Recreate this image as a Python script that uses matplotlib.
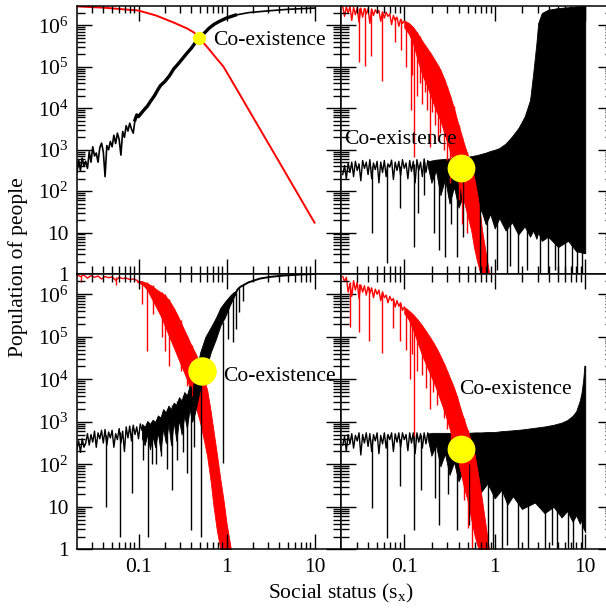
import numpy as np
import matplotlib
matplotlib.use("Agg")
import matplotlib.pyplot as plt
from matplotlib.ticker import FixedLocator, FixedFormatter, NullFormatter, NullLocator
from matplotlib.collections import LineCollection

plt.rcParams['font.family'] = ['Liberation Serif', 'DejaVu Serif']
plt.rcParams['mathtext.fontset'] = 'custom'
plt.rcParams['mathtext.rm'] = 'Liberation Serif'
plt.rcParams['mathtext.it'] = 'Liberation Serif:italic'
plt.rcParams['mathtext.default'] = 'regular'

FS = 15.5
RED = '#ff0000'
YEL = '#ffff00'

# every number below is log10 of the value
# (x = social status, y = population)

# ---- panel A (top left)
A_BLK_LX = [-1.70, -1.68, -1.66, -1.64, -1.62, -1.60, -1.58, -1.56, -1.54, -1.52,
            -1.50, -1.48, -1.46, -1.44, -1.42, -1.40, -1.38, -1.36, -1.34, -1.32,
            -1.30, -1.28, -1.26, -1.24, -1.22, -1.20, -1.18, -1.16, -1.14, -1.12,
            -1.10, -1.08, -1.06, -1.04, -1.02, -1.00, -0.97, -0.93, -0.90, -0.86,
            -0.82, -0.78, -0.75, -0.70, -0.65, -0.60, -0.55, -0.50, -0.45, -0.40,
            -0.35, -0.31, -0.25, -0.20, -0.14, -0.08, 0.00, 0.10, 0.25, 0.46,
            0.70, 1.00]
A_BLK_LY = [2.45, 2.75, 2.50, 2.80, 2.60, 2.72, 2.55, 2.95, 2.70, 3.07,
            2.85, 2.92, 2.70, 3.05, 3.16, 2.95, 2.35, 3.10, 3.00, 3.20,
            3.07, 3.35, 3.15, 3.40, 3.25, 2.87, 3.44, 3.30, 3.58, 3.45,
            3.64, 3.50, 3.40, 3.72, 3.84, 3.80, 3.88, 3.98, 4.05, 4.18,
            4.30, 4.45, 4.55, 4.65, 4.78, 4.95, 5.07, 5.20, 5.33, 5.45,
            5.60, 5.69, 5.82, 5.93, 6.03, 6.10, 6.18, 6.25, 6.31, 6.35,
            6.39, 6.42]
A_RED_LX = [-1.70, -1.40, -1.00, -0.80, -0.60, -0.45, -0.37, -0.31, -0.20, -0.10,
            -0.036, 0.10, 0.30, 0.60, 1.00]
A_RED_LY = [6.46, 6.43, 6.36, 6.24, 6.07, 5.93, 5.83, 5.70, 5.43, 5.17,
            5.01, 4.52, 3.79, 2.70, 1.24]
A_DOT = (-0.31, 5.70)
A_TXT = (-0.153, 5.63)

# ---- shared x samples of the noisy black lines in panels B and D
NOISE_LX = [-1.68, -1.66, -1.64, -1.62, -1.60, -1.58, -1.56, -1.54, -1.52, -1.50,
            -1.48, -1.46, -1.44, -1.42, -1.40, -1.38, -1.36, -1.34, -1.32, -1.30,
            -1.28, -1.26, -1.24, -1.22, -1.20, -1.18, -1.16, -1.14, -1.12, -1.10,
            -1.08, -1.06, -1.04, -1.02, -1.00, -0.98, -0.96, -0.94, -0.92, -0.90,
            -0.88, -0.86, -0.84, -0.82, -0.80, -0.78, -0.76, -0.74, -0.72]
RED_ZZ_LX = NOISE_LX[:35]

# ---- panel B (top right)
B_BLK_LY = [2.40, 2.62, 2.30, 2.68, 2.45, 2.70, 2.35, 2.72, 2.50, 2.66,
            2.25, 2.74, 2.55, 2.70, 2.40, 2.76, 2.30, 2.68, 2.52, 2.72,
            2.20, 2.70, 2.45, 2.74, 2.35, 2.66, 2.58, 2.75, 2.28, 2.70,
            2.50, 2.72, 2.38, 2.76, 2.55, 2.68, 2.30, 2.74, 2.48, 2.72,
            2.20, 2.76, 2.50, 2.70, 2.35, 2.78, 2.45, 2.74, 2.60]
B_BAND_LX = [-0.74, -0.70, -0.65, -0.60, -0.55, -0.50, -0.45, -0.40, -0.35, -0.30,
             -0.25, -0.20, -0.15, -0.10, -0.05, 0.00, 0.05, 0.12, 0.19, 0.26,
             0.33, 0.39, 0.425, 0.46, 0.48, 0.52, 0.59, 0.70, 0.81, 0.90,
             1.00]
B_BAND_HI = [2.72, 2.74, 2.76, 2.77, 2.78, 2.79, 2.80, 2.81, 2.82, 2.83,
             2.85, 2.87, 2.90, 2.93, 2.97, 3.00, 3.04, 3.15, 3.32, 3.52,
             3.80, 4.20, 4.85, 5.57, 6.06, 6.30, 6.38, 6.42, 6.44, 6.46,
             6.47]
B_BAND_LO = [2.60, 2.20, 2.50, 1.90, 2.30, 1.70, 2.10, 1.60, 1.90, 1.45,
             1.70, 1.30, 1.55, 1.20, 1.45, 1.10, 1.35, 1.05, 1.25, 0.95,
             1.15, 0.90, 1.05, 0.85, 1.00, 0.80, 0.90, 0.65, 0.80, 0.55,
             0.50]
B_BLK_SPIKES = [(-1.354, 2.60, 0.98), (-1.19, 2.62, 0.26), (-1.05, 2.60, 1.60),
                (-0.893, 2.65, 0.66), (-0.85, 2.60, 1.47), (-0.78, 2.70, 1.90),
                (-0.67, 2.70, 0.98), (-0.617, 2.70, 0.58), (-0.545, 2.70, 0.42),
                (-0.48, 2.70, 1.20), (-0.414, 2.75, 0.42), (-0.35, 2.60, 0.90),
                (-0.164, 1.80, 0.0), (-0.09, 1.80, 0.0), (0.02, 1.70, 0.1),
                (0.13, 1.70, 0.0), (0.168, 1.60, 0.2), (0.26, 1.60, 0.0),
                (0.351, 1.50, 0.1), (0.499, 1.40, 0.0), (0.591, 1.30, 0.0),
                (0.665, 1.20, 0.1), (0.70, 1.20, 0.0), (0.776, 1.20, 0.0),
                (0.849, 1.10, 0.0), (0.904, 1.10, 0.0), (0.959, 1.00, 0.0)]
B_RED_ZZ = [6.46, 6.22, 6.45, 6.30, 6.46, 6.12, 6.44, 6.26, 6.43, 6.08,
            6.42, 6.20, 6.41, 6.28, 6.40, 6.05, 6.40, 6.24, 6.38, 6.30,
            6.36, 6.10, 6.33, 6.18, 6.32, 6.22, 6.28, 6.02, 6.24, 6.12,
            6.20, 5.98, 6.15, 6.05, 6.10]
B_RED_LX = [-1.00, -0.95, -0.90, -0.85, -0.80, -0.75, -0.70, -0.65, -0.60, -0.55,
            -0.50, -0.45, -0.42, -0.38, -0.34, -0.30, -0.26, -0.23, -0.20, -0.17,
            -0.14, -0.11, -0.08, -0.06]
B_RED_HI = [6.12, 6.06, 5.95, 5.80, 5.62, 5.46, 5.30, 5.12, 4.93, 4.66,
            4.35, 4.00, 3.75, 3.45, 3.15, 2.88, 2.60, 2.35, 2.00, 1.60,
            1.05, 0.65, 0.25, 0.00]
B_RED_LO = [5.95, 5.80, 5.55, 5.15, 4.80, 4.55, 4.25, 3.95, 3.70, 3.35,
            3.00, 2.60, 2.35, 2.05, 1.75, 1.40, 1.05, 0.65, 0.35, 0.10,
            0.00, 0.00, 0.00, 0.00]
B_RED_SPIKES = [(-1.505, 6.43, 5.13), (-1.43, 6.42, 5.01), (-1.37, 6.40, 5.26),
                (-1.245, 6.33, 4.65), (-1.10, 6.20, 5.60), (-1.04, 6.15, 5.40),
                (-0.98, 6.08, 5.00), (-0.93, 6.02, 3.96), (-0.91, 5.98, 4.80),
                (-0.89, 5.93, 2.83), (-0.86, 5.85, 4.30), (-0.83, 5.75, 4.60),
                (-0.80, 5.62, 4.10), (-0.77, 5.52, 4.40), (-0.75, 5.46, 3.96),
                (-0.72, 5.36, 3.07), (-0.69, 5.26, 3.90), (-0.66, 5.15, 3.60),
                (-0.63, 5.05, 3.20), (-0.60, 4.93, 3.40), (-0.56, 4.72, 3.00),
                (-0.53, 4.55, 2.75), (-0.49, 4.30, 2.20), (-0.455, 4.05, 2.43),
                (-0.40, 3.60, 1.79), (-0.36, 3.30, 1.20), (-0.31, 2.95, 1.00)]
B_DOT = (-0.37, 2.56)
B_TXT = (-1.663, 3.24)

# ---- panel C (bottom left)
C_BLK_ZZ_LX = [-1.70, -1.68, -1.66, -1.64, -1.62, -1.60, -1.58, -1.56, -1.54, -1.52,
               -1.50, -1.48, -1.46, -1.44, -1.42, -1.40, -1.38, -1.36, -1.34, -1.32,
               -1.30, -1.28, -1.26, -1.24, -1.22, -1.20, -1.18, -1.16, -1.14, -1.12,
               -1.10, -1.08, -1.06, -1.04, -1.02, -1.00, -0.98, -0.96]
C_BLK_ZZ = [2.35, 2.55, 2.28, 2.60, 2.40, 2.50, 2.72, 2.45, 2.70, 2.52,
            2.78, 2.40, 2.74, 2.60, 2.80, 2.50, 2.82, 2.45, 2.76, 2.62,
            2.80, 2.40, 2.72, 2.58, 2.84, 2.50, 2.78, 2.30, 2.88, 2.62,
            2.90, 2.55, 2.92, 2.70, 2.88, 2.60, 2.95, 2.80]
C_BAND_LX = [-0.96, -0.93, -0.90, -0.87, -0.84, -0.81, -0.78, -0.75, -0.72, -0.69,
             -0.66, -0.63, -0.60, -0.57, -0.54, -0.51, -0.48, -0.45, -0.42, -0.39,
             -0.36, -0.30, -0.24, -0.18, -0.12, -0.07, -0.02, 0.04, 0.08, 0.12]
C_BAND_HI = [2.95, 2.88, 3.02, 2.95, 3.05, 3.00, 3.15, 3.10, 3.30, 3.22,
             3.38, 3.30, 3.45, 3.40, 3.58, 3.50, 3.70, 3.62, 3.85, 3.80,
             3.98, 4.63, 5.00, 5.22, 5.45, 5.68, 5.82, 5.97, 6.05, 6.10]
C_BAND_LO = [2.60, 2.45, 2.70, 2.35, 2.65, 2.40, 2.75, 2.30, 2.85, 2.50,
             2.95, 2.45, 3.00, 2.55, 3.05, 2.70, 3.15, 2.85, 3.30, 3.00,
             3.20, 3.77, 4.20, 4.63, 4.95, 5.26, 5.45, 5.75, 5.92, 6.10]
C_TOP_LX = [0.12, 0.153, 0.25, 0.38, 0.50, 0.644, 0.80, 1.00]
C_TOP_LY = [6.10, 6.17, 6.28, 6.37, 6.41, 6.44, 6.46, 6.48]
C_BLK_SPIKES = [(-1.366, 2.70, 1.00), (-1.207, 2.75, 0.30), (-1.07, 2.85, 1.33),
                (-0.95, 2.90, 2.10), (-0.894, 3.00, 0.30), (-0.85, 3.00, 2.00),
                (-0.803, 3.00, 2.00), (-0.74, 3.10, 2.20), (-0.68, 3.30, 1.90),
                (-0.62, 3.40, 1.40), (-0.56, 3.50, 2.10), (-0.50, 3.60, 2.30),
                (-0.45, 3.60, 1.80), (-0.406, 3.80, 0.46), (-0.37, 3.90, 2.40),
                (-0.293, 4.00, 0.30), (-0.043, 5.35, 2.03), (0.02, 5.80, 4.95),
                (0.077, 5.95, 4.88), (0.108, 6.05, 5.18), (0.145, 6.15, 5.58),
                (0.183, 6.22, 5.85)]
C_RED_ZZ_LX = [-1.70, -1.66, -1.62, -1.58, -1.54, -1.50, -1.46, -1.42, -1.38, -1.34,
               -1.30, -1.26, -1.22, -1.18, -1.14, -1.10, -1.06, -1.02]
C_RED_ZZ = [6.46, 6.42, 6.45, 6.38, 6.44, 6.40, 6.43, 6.36, 6.42, 6.39,
            6.41, 6.33, 6.40, 6.37, 6.38, 6.35, 6.36, 6.33]
C_RED_LX = [-1.02, -0.95, -0.90, -0.85, -0.80, -0.75, -0.70, -0.65, -0.60, -0.55,
            -0.50, -0.45, -0.40, -0.35, -0.30, -0.26, -0.22, -0.18, -0.15, -0.11,
            -0.07, -0.03, 0.00, 0.05]
C_RED_HI = [6.33, 6.30, 6.26, 6.20, 6.12, 6.05, 5.98, 5.85, 5.68, 5.48,
            5.25, 5.03, 4.80, 4.60, 4.35, 4.05, 3.75, 3.25, 2.82, 2.25,
            1.65, 1.10, 0.62, 0.00]
C_RED_LO = [6.30, 6.22, 6.10, 5.90, 5.70, 5.50, 5.25, 5.00, 4.75, 4.50,
            4.25, 4.00, 3.70, 3.35, 2.98, 2.60, 2.19, 1.60, 1.05, 0.45,
            0.00, 0.00, 0.00, 0.00]
C_RED_SPIKES = [(-1.65, 6.44, 6.30), (-1.256, 6.40, 6.21), (-0.955, 6.32, 5.78),
                (-0.898, 6.28, 4.67), (-0.841, 6.22, 5.54), (-0.73, 6.05, 4.99),
                (-0.70, 6.00, 4.67), (-0.652, 5.88, 4.32), (-0.595, 5.66, 4.90),
                (-0.52, 5.40, 4.20), (-0.444, 5.03, 3.84), (-0.39, 4.80, 3.60)]
C_DOT = (-0.28, 4.19)
C_TXT = (-0.043, 4.07)

# ---- panel D (bottom right)
D_BLK_LY = [2.45, 2.65, 2.32, 2.70, 2.48, 2.72, 2.38, 2.68, 2.55, 2.74,
            2.22, 2.70, 2.50, 2.74, 2.42, 2.72, 2.30, 2.70, 2.55, 2.74,
            2.25, 2.68, 2.48, 2.74, 2.38, 2.70, 2.58, 2.74, 2.30, 2.72,
            2.52, 2.74, 2.40, 2.74, 2.58, 2.70, 2.32, 2.74, 2.50, 2.74,
            2.25, 2.74, 2.52, 2.72, 2.38, 2.74, 2.48, 2.74, 2.60]
D_BAND_LX = [-0.74, -0.70, -0.65, -0.60, -0.55, -0.50, -0.45, -0.40, -0.35, -0.30,
             -0.22, -0.15, -0.08, 0.00, 0.075, 0.14, 0.20, 0.30, 0.444, 0.55,
             0.65, 0.738, 0.80, 0.86, 0.90, 0.94, 0.96, 0.978, 0.99, 1.00]
D_BAND_HI = [2.72, 2.74, 2.74, 2.74, 2.74, 2.74, 2.74, 2.74, 2.74, 2.74,
             2.75, 2.75, 2.76, 2.76, 2.78, 2.79, 2.80, 2.82, 2.86, 2.89,
             2.93, 2.98, 3.04, 3.14, 3.25, 3.50, 3.70, 4.00, 4.32, 4.32]
D_BAND_LO = [2.60, 2.20, 2.45, 1.95, 2.25, 1.75, 2.05, 1.60, 1.85, 1.50,
             1.70, 1.35, 1.55, 1.20, 1.40, 1.05, 1.25, 0.95, 1.10, 0.85,
             1.00, 0.75, 0.90, 0.65, 0.80, 0.60, 0.70, 0.50, 0.45, 0.40]
D_BLK_SPIKES = [(-1.357, 2.60, 0.97), (-1.191, 2.70, 0.26), (-1.05, 2.60, 1.50),
                (-0.89, 2.70, 0.46), (-0.82, 2.70, 1.40), (-0.66, 2.70, 1.20),
                (-0.62, 2.70, 0.58), (-0.52, 2.70, 1.30), (-0.418, 2.70, 0.46),
                (-0.29, 2.00, 0.58), (-0.072, 1.70, 0.0), (-0.017, 1.70, 0.0),
                (0.075, 1.60, 0.0), (0.13, 1.60, 0.1), (0.26, 1.50, 0.0),
                (0.37, 1.50, 0.0), (0.555, 1.30, 0.0), (0.628, 1.30, 0.1),
                (0.683, 1.20, 0.0), (0.812, 1.10, 0.0), (0.867, 1.10, 0.0),
                (0.959, 1.00, 0.0)]
D_RED_ZZ = [6.42, 6.30, 6.40, 6.05, 6.25, 5.95, 6.32, 6.10, 6.28, 5.90,
            6.22, 6.05, 6.20, 5.98, 6.18, 6.02, 6.15, 5.92, 6.12, 6.00,
            6.10, 5.85, 6.05, 5.92, 5.98, 5.80, 5.95, 5.85, 5.90, 5.70,
            5.85, 5.72, 5.80, 5.62, 5.70]
D_RED_LX = [-1.00, -0.95, -0.90, -0.85, -0.80, -0.75, -0.70, -0.65, -0.60, -0.55,
            -0.50, -0.45, -0.42, -0.38, -0.34, -0.30, -0.26, -0.22, -0.18, -0.15,
            -0.12, -0.09, -0.064]
D_RED_HI = [5.70, 5.62, 5.52, 5.40, 5.26, 5.10, 4.94, 4.76, 4.55, 4.32,
            4.06, 3.80, 3.61, 3.32, 3.05, 2.80, 2.52, 2.20, 1.70, 1.30,
            0.85, 0.40, 0.00]
D_RED_LO = [5.55, 5.40, 5.15, 4.85, 4.55, 4.30, 4.05, 3.80, 3.50, 3.20,
            2.85, 2.50, 2.19, 1.85, 1.45, 1.15, 0.70, 0.30, 0.00, 0.00,
            0.00, 0.00, 0.00]
D_RED_SPIKES = [(-1.597, 6.30, 5.22), (-1.505, 6.25, 5.11), (-1.394, 6.17, 4.91),
                (-1.246, 6.07, 4.63), (-1.12, 5.90, 5.20), (-1.05, 5.80, 4.90),
                (-0.98, 5.66, 4.70), (-0.934, 5.58, 4.00), (-0.91, 5.54, 4.60),
                (-0.89, 5.50, 2.66), (-0.86, 5.43, 4.20), (-0.80, 5.25, 4.10),
                (-0.76, 5.13, 3.80), (-0.713, 4.98, 3.29), (-0.68, 4.88, 3.70),
                (-0.64, 4.72, 3.40), (-0.60, 4.55, 3.60), (-0.56, 4.36, 3.10),
                (-0.53, 4.20, 2.82), (-0.48, 3.95, 2.40), (-0.42, 3.60, 2.19),
                (-0.345, 3.10, 1.17), (-0.30, 2.80, 0.50), (-0.25, 2.45, 0.00)]
D_DOT = (-0.37, 2.35)
D_TXT = (-0.396, 3.77)

Y_TICKS = [1, 10, 1e2, 1e3, 1e4, 1e5, 1e6]
Y_LABELS = ['1', '10', '$10^2$', '$10^3$', '$10^4$', '$10^5$', '$10^6$']
X_TICKS = [0.1, 1, 10]
X_LABELS = ['0.1', '1', '10']
X_MINOR = [m * 10.0 ** e for e in range(-2, 2) for m in range(2, 10)]
Y_MINOR = [m * 10.0 ** e for e in range(0, 7) for m in range(2, 10)]
XLIM = (0.02, 20)
YLIM = (1, 3e6)
MINOR_LEN_PX = 7.6


def lg(v):
    return 10 ** np.asarray(v, dtype=float)


def line(ax, lx, ly, color, lw=1.0):
    ax.plot(lg(lx), lg(ly), color=color, lw=lw)


def band(ax, lx, lo, hi, color):
    ax.fill_between(lg(lx), lg(lo), lg(hi), color=color, lw=0.6)


def spikes(ax, sp, color, lw=1.0):
    sp = np.asarray(sp, dtype=float)
    ax.vlines(lg(sp[:, 0]), lg(sp[:, 2]), lg(sp[:, 1]), colors=color, lw=lw)


def dot(ax, p, size):
    ax.plot([10 ** p[0]], [10 ** p[1]], 'o', color=YEL, ms=size, mec='none', zorder=5)


def label(ax, p):
    ax.text(10 ** p[0], 10 ** p[1], 'Co-existence', fontsize=FS, ha='left',
            va='center', zorder=6)


def frame(ax, left, bottom, w_px, h_px):
    ax.set_xscale('log')
    ax.set_yscale('log')
    ax.set_xlim(*XLIM)
    ax.set_ylim(*YLIM)
    ax.xaxis.set_major_locator(FixedLocator(X_TICKS))
    ax.yaxis.set_major_locator(FixedLocator(Y_TICKS))
    ax.xaxis.set_minor_locator(NullLocator())
    ax.yaxis.set_minor_locator(NullLocator())
    if bottom:
        ax.xaxis.set_major_formatter(FixedFormatter(X_LABELS))
    else:
        ax.xaxis.set_major_formatter(NullFormatter())
    if left:
        ax.yaxis.set_major_formatter(FixedFormatter(Y_LABELS))
    else:
        ax.yaxis.set_major_formatter(NullFormatter())
    ax.tick_params(which='both', direction='in', top=True, right=True,
                   labelsize=FS, width=1.0, pad=6)
    ax.tick_params(which='major', length=11)
    for s in ax.spines.values():
        s.set_linewidth(1.1)
    # short inward minor ticks on all four sides
    fx = MINOR_LEN_PX / w_px
    fy = MINOR_LEN_PX / h_px
    ys = [v for v in Y_MINOR if YLIM[0] < v < YLIM[1]]
    xs = [v for v in X_MINOR if XLIM[0] < v < XLIM[1]]
    segs_y = [[(0, v), (fx, v)] for v in ys] + [[(1 - fx, v), (1, v)] for v in ys]
    segs_x = [[(v, 0), (v, fy)] for v in xs] + [[(v, 1 - fy), (v, 1)] for v in xs]
    ax.add_collection(LineCollection(segs_y, colors='black', linewidths=1.0,
                                     transform=ax.get_yaxis_transform(),
                                     zorder=2.5), autolim=False)
    ax.add_collection(LineCollection(segs_x, colors='black', linewidths=1.0,
                                     transform=ax.get_xaxis_transform(),
                                     zorder=2.5), autolim=False)


fig = plt.figure(figsize=(6.06, 6.08), dpi=100)
W, H = 606.0, 608.0
axA = fig.add_axes([77 / W, 1 - 274 / H, 264 / W, 268.3 / H])
axB = fig.add_axes([341 / W, 1 - 274 / H, 271.5 / W, 268.3 / H])
axC = fig.add_axes([77 / W, 1 - 549.3 / H, 264 / W, 275.3 / H])
axD = fig.add_axes([341 / W, 1 - 549.3 / H, 271.5 / W, 275.3 / H])

# A
line(axA, A_BLK_LX, A_BLK_LY, 'black', lw=1.2)
mid = [i for i, v in enumerate(A_BLK_LX) if -1.05 <= v <= 0.1]
line(axA, [A_BLK_LX[i] for i in mid], [A_BLK_LY[i] for i in mid], 'black', lw=2.4)
line(axA, A_RED_LX, A_RED_LY, RED, lw=1.4)
dot(axA, A_DOT, 9.5)
label(axA, A_TXT)

# B
line(axB, NOISE_LX, B_BLK_LY, 'black')
band(axB, B_BAND_LX, B_BAND_LO, B_BAND_HI, 'black')
spikes(axB, B_BLK_SPIKES, 'black')
line(axB, RED_ZZ_LX, B_RED_ZZ, RED)
band(axB, B_RED_LX, B_RED_LO, B_RED_HI, RED)
spikes(axB, B_RED_SPIKES, RED)
dot(axB, B_DOT, 20)
label(axB, B_TXT)

# C
line(axC, C_RED_ZZ_LX, C_RED_ZZ, RED)
band(axC, C_RED_LX, C_RED_LO, C_RED_HI, RED)
spikes(axC, C_RED_SPIKES, RED)
line(axC, C_BLK_ZZ_LX, C_BLK_ZZ, 'black')
band(axC, C_BAND_LX, C_BAND_LO, C_BAND_HI, 'black')
line(axC, C_TOP_LX, C_TOP_LY, 'black', lw=1.4)
spikes(axC, C_BLK_SPIKES, 'black')
dot(axC, C_DOT, 20.5)
label(axC, C_TXT)

# D
line(axD, NOISE_LX, D_BLK_LY, 'black')
band(axD, D_BAND_LX, D_BAND_LO, D_BAND_HI, 'black')
spikes(axD, D_BLK_SPIKES, 'black')
line(axD, RED_ZZ_LX, D_RED_ZZ, RED)
band(axD, D_RED_LX, D_RED_LO, D_RED_HI, RED)
spikes(axD, D_RED_SPIKES, RED)
dot(axD, D_DOT, 20)
label(axD, D_TXT)

fig.text(341 / W, 1 - 598 / H, 'Social status (s$_x$)', fontsize=FS,
         ha='center', va='baseline')
fig.text(0.03, 1 - 267 / H, 'Population of people', fontsize=FS,
         rotation=90, ha='center', va='center')

frame(axA, True, False, 264, 268.3)
frame(axB, False, False, 271.5, 268.3)
frame(axC, True, True, 264, 275.3)
frame(axD, False, True, 271.5, 275.3)

fig.savefig('out.png', dpi=100)
